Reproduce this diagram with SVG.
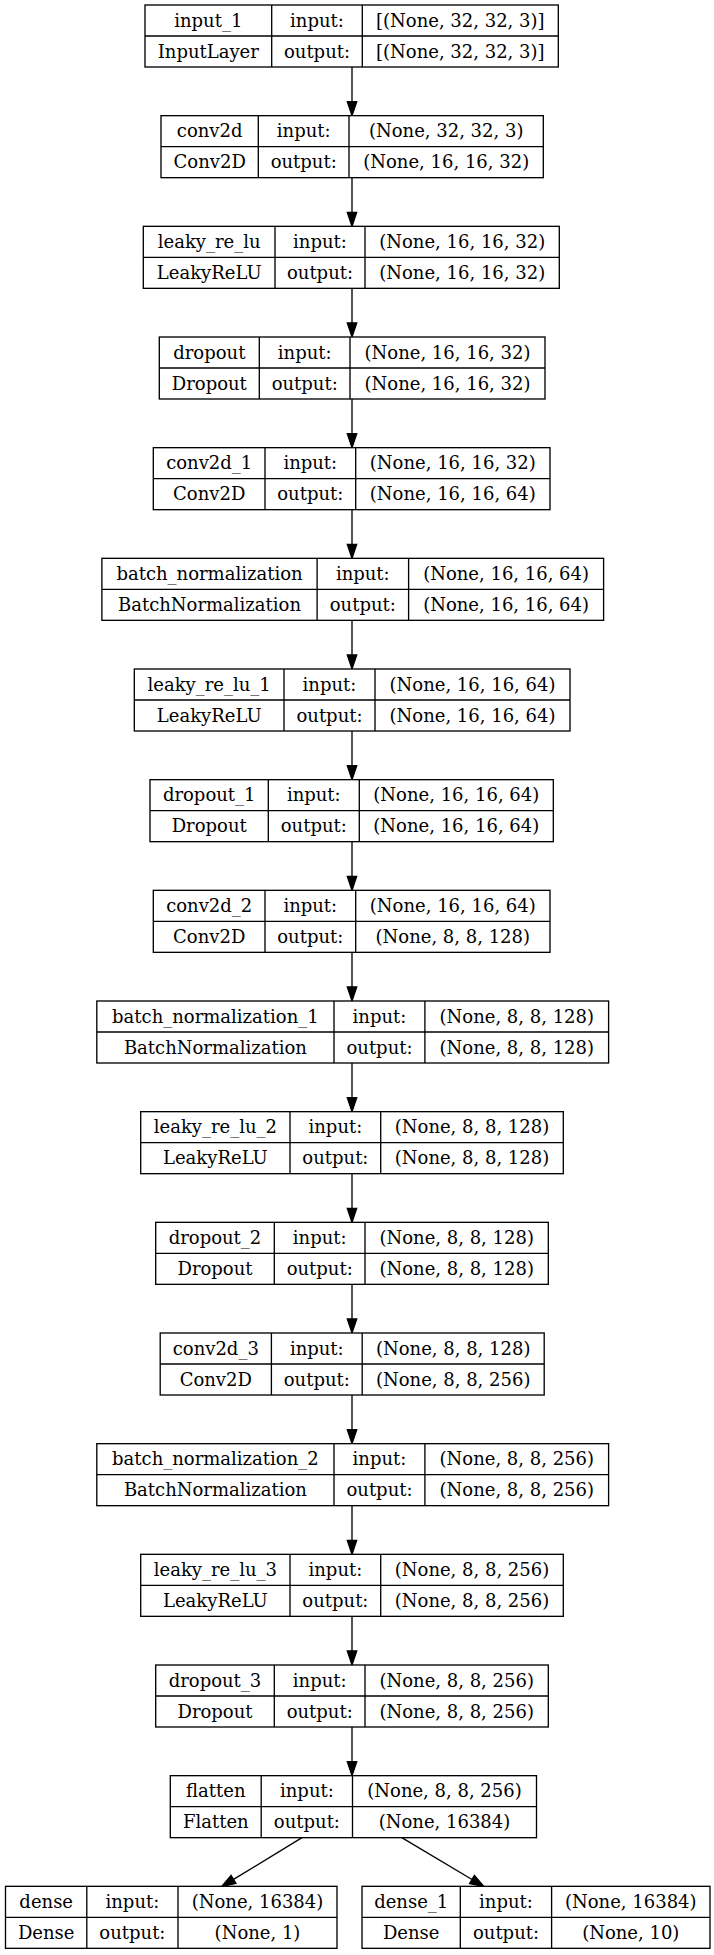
<svg xmlns="http://www.w3.org/2000/svg" width="714" height="1955" viewBox="0 0 714 1955">
  <style>
    .box { fill: #ffffff; stroke: #000000; stroke-width: 1.33; }
    .sep { stroke: #000000; stroke-width: 1.33; }
    .edge { stroke: #000000; stroke-width: 1.33; fill: none; marker-end: url(#head); }
    text { font-family: "DejaVu Serif", "Liberation Serif", serif; font-size: 18px; fill: #000000; text-anchor: middle; }
  </style>
  <defs>
    <marker id="head" markerUnits="userSpaceOnUse" markerWidth="14" markerHeight="10" refX="0" refY="5" orient="auto" overflow="visible">
      <path d="M0,0.3 L14,5 L0,9.7 Z" fill="#000000" stroke="#000000" stroke-width="1.33"/>
    </marker>
  </defs>
  <rect x="0" y="0" width="714" height="1955" fill="#ffffff"/>

  <!-- connectors -->
  <g id="connectors">
    <path class="edge" d="M352,67 V101.67"/>
    <path class="edge" d="M352,177.67 V212.33"/>
    <path class="edge" d="M352,288.33 V323"/>
    <path class="edge" d="M352,399 V433.67"/>
    <path class="edge" d="M352,509.67 V544.33"/>
    <path class="edge" d="M352,620.33 V655"/>
    <path class="edge" d="M352,731 V765.67"/>
    <path class="edge" d="M352,841.67 V876.33"/>
    <path class="edge" d="M352,952.33 V987"/>
    <path class="edge" d="M352,1063 V1097.67"/>
    <path class="edge" d="M352,1173.67 V1208.33"/>
    <path class="edge" d="M352,1284.33 V1319"/>
    <path class="edge" d="M352,1395 V1429.67"/>
    <path class="edge" d="M352,1505.67 V1540.33"/>
    <path class="edge" d="M352,1616.33 V1651"/>
    <path class="edge" d="M352,1727 V1761.67"/>
    <path class="edge" d="M302,1837.67 L233.5,1879.4"/>
    <path class="edge" d="M401.8,1837.67 L472,1879.5"/>
  </g>

  <!-- layer nodes -->
  <g id="input_1" transform="translate(0,5)">
    <rect class="box" x="145" y="0" width="413.3" height="62"/>
    <line class="sep" x1="145" y1="31" x2="558.3" y2="31"/>
    <line class="sep" x1="271.7" y1="0" x2="271.7" y2="62"/>
    <line class="sep" x1="362.3" y1="0" x2="362.3" y2="62"/>
    <text x="208.3" y="21.5">input_1</text>
    <text x="208.3" y="52.5">InputLayer</text>
    <text x="317" y="21.5">input:</text>
    <text x="317" y="52.5">output:</text>
    <text x="460.3" y="21.5">[(None, 32, 32, 3)]</text>
    <text x="460.3" y="52.5">[(None, 32, 32, 3)]</text>
  </g>

  <g id="conv2d" transform="translate(0,115.67)">
    <rect class="box" x="161" y="0" width="382.3" height="62"/>
    <line class="sep" x1="161" y1="31" x2="543.3" y2="31"/>
    <line class="sep" x1="258.3" y1="0" x2="258.3" y2="62"/>
    <line class="sep" x1="349" y1="0" x2="349" y2="62"/>
    <text x="209.7" y="21.5">conv2d</text>
    <text x="209.7" y="52.5">Conv2D</text>
    <text x="303.7" y="21.5">input:</text>
    <text x="303.7" y="52.5">output:</text>
    <text x="446.2" y="21.5">(None, 32, 32, 3)</text>
    <text x="446.2" y="52.5">(None, 16, 16, 32)</text>
  </g>

  <g id="leaky_re_lu" transform="translate(0,226.33)">
    <rect class="box" x="143.3" y="0" width="416" height="62"/>
    <line class="sep" x1="143.3" y1="31" x2="559.3" y2="31"/>
    <line class="sep" x1="275" y1="0" x2="275" y2="62"/>
    <line class="sep" x1="365" y1="0" x2="365" y2="62"/>
    <text x="209.2" y="21.5">leaky_re_lu</text>
    <text x="209.2" y="52.5">LeakyReLU</text>
    <text x="320" y="21.5">input:</text>
    <text x="320" y="52.5">output:</text>
    <text x="462.2" y="21.5">(None, 16, 16, 32)</text>
    <text x="462.2" y="52.5">(None, 16, 16, 32)</text>
  </g>

  <g id="dropout" transform="translate(0,337)">
    <rect class="box" x="159.3" y="0" width="385.7" height="62"/>
    <line class="sep" x1="159.3" y1="31" x2="545" y2="31"/>
    <line class="sep" x1="259.3" y1="0" x2="259.3" y2="62"/>
    <line class="sep" x1="350" y1="0" x2="350" y2="62"/>
    <text x="209.3" y="21.5">dropout</text>
    <text x="209.3" y="52.5">Dropout</text>
    <text x="304.7" y="21.5">input:</text>
    <text x="304.7" y="52.5">output:</text>
    <text x="447.5" y="21.5">(None, 16, 16, 32)</text>
    <text x="447.5" y="52.5">(None, 16, 16, 32)</text>
  </g>

  <g id="conv2d_1" transform="translate(0,447.67)">
    <rect class="box" x="153.3" y="0" width="396.7" height="62"/>
    <line class="sep" x1="153.3" y1="31" x2="550" y2="31"/>
    <line class="sep" x1="265" y1="0" x2="265" y2="62"/>
    <line class="sep" x1="355.7" y1="0" x2="355.7" y2="62"/>
    <text x="209.2" y="21.5">conv2d_1</text>
    <text x="209.2" y="52.5">Conv2D</text>
    <text x="310.3" y="21.5">input:</text>
    <text x="310.3" y="52.5">output:</text>
    <text x="452.8" y="21.5">(None, 16, 16, 32)</text>
    <text x="452.8" y="52.5">(None, 16, 16, 64)</text>
  </g>

  <g id="batch_normalization" transform="translate(0,558.33)">
    <rect class="box" x="101.9" y="0" width="501.7" height="62"/>
    <line class="sep" x1="101.9" y1="31" x2="603.6" y2="31"/>
    <line class="sep" x1="317.1" y1="0" x2="317.1" y2="62"/>
    <line class="sep" x1="408.6" y1="0" x2="408.6" y2="62"/>
    <text x="209.5" y="21.5">batch_normalization</text>
    <text x="209.5" y="52.5">BatchNormalization</text>
    <text x="362.8" y="21.5">input:</text>
    <text x="362.8" y="52.5">output:</text>
    <text x="506.1" y="21.5">(None, 16, 16, 64)</text>
    <text x="506.1" y="52.5">(None, 16, 16, 64)</text>
  </g>

  <g id="leaky_re_lu_1" transform="translate(0,669)">
    <rect class="box" x="134.3" y="0" width="435.7" height="62"/>
    <line class="sep" x1="134.3" y1="31" x2="570" y2="31"/>
    <line class="sep" x1="284" y1="0" x2="284" y2="62"/>
    <line class="sep" x1="375" y1="0" x2="375" y2="62"/>
    <text x="209.2" y="21.5">leaky_re_lu_1</text>
    <text x="209.2" y="52.5">LeakyReLU</text>
    <text x="329.5" y="21.5">input:</text>
    <text x="329.5" y="52.5">output:</text>
    <text x="472.5" y="21.5">(None, 16, 16, 64)</text>
    <text x="472.5" y="52.5">(None, 16, 16, 64)</text>
  </g>

  <g id="dropout_1" transform="translate(0,779.67)">
    <rect class="box" x="150" y="0" width="403.3" height="62"/>
    <line class="sep" x1="150" y1="31" x2="553.3" y2="31"/>
    <line class="sep" x1="268.3" y1="0" x2="268.3" y2="62"/>
    <line class="sep" x1="359.3" y1="0" x2="359.3" y2="62"/>
    <text x="209.2" y="21.5">dropout_1</text>
    <text x="209.2" y="52.5">Dropout</text>
    <text x="313.8" y="21.5">input:</text>
    <text x="313.8" y="52.5">output:</text>
    <text x="456.3" y="21.5">(None, 16, 16, 64)</text>
    <text x="456.3" y="52.5">(None, 16, 16, 64)</text>
  </g>

  <g id="conv2d_2" transform="translate(0,890.33)">
    <rect class="box" x="153.3" y="0" width="396.7" height="62"/>
    <line class="sep" x1="153.3" y1="31" x2="550" y2="31"/>
    <line class="sep" x1="265" y1="0" x2="265" y2="62"/>
    <line class="sep" x1="355.7" y1="0" x2="355.7" y2="62"/>
    <text x="209.2" y="21.5">conv2d_2</text>
    <text x="209.2" y="52.5">Conv2D</text>
    <text x="310.3" y="21.5">input:</text>
    <text x="310.3" y="52.5">output:</text>
    <text x="452.8" y="21.5">(None, 16, 16, 64)</text>
    <text x="452.8" y="52.5">(None, 8, 8, 128)</text>
  </g>

  <g id="batch_normalization_1" transform="translate(0,1001)">
    <rect class="box" x="96.8" y="0" width="511.8" height="62"/>
    <line class="sep" x1="96.8" y1="31" x2="608.6" y2="31"/>
    <line class="sep" x1="334" y1="0" x2="334" y2="62"/>
    <line class="sep" x1="424.9" y1="0" x2="424.9" y2="62"/>
    <text x="215.4" y="21.5">batch_normalization_1</text>
    <text x="215.4" y="52.5">BatchNormalization</text>
    <text x="379.5" y="21.5">input:</text>
    <text x="379.5" y="52.5">output:</text>
    <text x="516.8" y="21.5">(None, 8, 8, 128)</text>
    <text x="516.8" y="52.5">(None, 8, 8, 128)</text>
  </g>

  <g id="leaky_re_lu_2" transform="translate(0,1111.67)">
    <rect class="box" x="140.7" y="0" width="422.6" height="62"/>
    <line class="sep" x1="140.7" y1="31" x2="563.3" y2="31"/>
    <line class="sep" x1="290" y1="0" x2="290" y2="62"/>
    <line class="sep" x1="380.7" y1="0" x2="380.7" y2="62"/>
    <text x="215.4" y="21.5">leaky_re_lu_2</text>
    <text x="215.4" y="52.5">LeakyReLU</text>
    <text x="335.4" y="21.5">input:</text>
    <text x="335.4" y="52.5">output:</text>
    <text x="472" y="21.5">(None, 8, 8, 128)</text>
    <text x="472" y="52.5">(None, 8, 8, 128)</text>
  </g>

  <g id="dropout_2" transform="translate(0,1222.33)">
    <rect class="box" x="155.7" y="0" width="392.6" height="62"/>
    <line class="sep" x1="155.7" y1="31" x2="548.3" y2="31"/>
    <line class="sep" x1="274.3" y1="0" x2="274.3" y2="62"/>
    <line class="sep" x1="365" y1="0" x2="365" y2="62"/>
    <text x="215" y="21.5">dropout_2</text>
    <text x="215" y="52.5">Dropout</text>
    <text x="319.7" y="21.5">input:</text>
    <text x="319.7" y="52.5">output:</text>
    <text x="456.7" y="21.5">(None, 8, 8, 128)</text>
    <text x="456.7" y="52.5">(None, 8, 8, 128)</text>
  </g>

  <g id="conv2d_3" transform="translate(0,1333)">
    <rect class="box" x="160.2" y="0" width="384" height="62"/>
    <line class="sep" x1="160.2" y1="31" x2="544.2" y2="31"/>
    <line class="sep" x1="271.4" y1="0" x2="271.4" y2="62"/>
    <line class="sep" x1="362.2" y1="0" x2="362.2" y2="62"/>
    <text x="215.8" y="21.5">conv2d_3</text>
    <text x="215.8" y="52.5">Conv2D</text>
    <text x="316.8" y="21.5">input:</text>
    <text x="316.8" y="52.5">output:</text>
    <text x="453.2" y="21.5">(None, 8, 8, 128)</text>
    <text x="453.2" y="52.5">(None, 8, 8, 256)</text>
  </g>

  <g id="batch_normalization_2" transform="translate(0,1443.67)">
    <rect class="box" x="96.8" y="0" width="511.8" height="62"/>
    <line class="sep" x1="96.8" y1="31" x2="608.6" y2="31"/>
    <line class="sep" x1="334" y1="0" x2="334" y2="62"/>
    <line class="sep" x1="424.9" y1="0" x2="424.9" y2="62"/>
    <text x="215.4" y="21.5">batch_normalization_2</text>
    <text x="215.4" y="52.5">BatchNormalization</text>
    <text x="379.5" y="21.5">input:</text>
    <text x="379.5" y="52.5">output:</text>
    <text x="516.8" y="21.5">(None, 8, 8, 256)</text>
    <text x="516.8" y="52.5">(None, 8, 8, 256)</text>
  </g>

  <g id="leaky_re_lu_3" transform="translate(0,1554.33)">
    <rect class="box" x="140.7" y="0" width="422.6" height="62"/>
    <line class="sep" x1="140.7" y1="31" x2="563.3" y2="31"/>
    <line class="sep" x1="290" y1="0" x2="290" y2="62"/>
    <line class="sep" x1="380.7" y1="0" x2="380.7" y2="62"/>
    <text x="215.4" y="21.5">leaky_re_lu_3</text>
    <text x="215.4" y="52.5">LeakyReLU</text>
    <text x="335.4" y="21.5">input:</text>
    <text x="335.4" y="52.5">output:</text>
    <text x="472" y="21.5">(None, 8, 8, 256)</text>
    <text x="472" y="52.5">(None, 8, 8, 256)</text>
  </g>

  <g id="dropout_3" transform="translate(0,1665)">
    <rect class="box" x="155.7" y="0" width="392.6" height="62"/>
    <line class="sep" x1="155.7" y1="31" x2="548.3" y2="31"/>
    <line class="sep" x1="274.3" y1="0" x2="274.3" y2="62"/>
    <line class="sep" x1="365" y1="0" x2="365" y2="62"/>
    <text x="215" y="21.5">dropout_3</text>
    <text x="215" y="52.5">Dropout</text>
    <text x="319.7" y="21.5">input:</text>
    <text x="319.7" y="52.5">output:</text>
    <text x="456.7" y="21.5">(None, 8, 8, 256)</text>
    <text x="456.7" y="52.5">(None, 8, 8, 256)</text>
  </g>

  <g id="flatten" transform="translate(0,1775.67)">
    <rect class="box" x="170.3" y="0" width="366.2" height="62"/>
    <line class="sep" x1="170.3" y1="31" x2="536.5" y2="31"/>
    <line class="sep" x1="261.2" y1="0" x2="261.2" y2="62"/>
    <line class="sep" x1="352.5" y1="0" x2="352.5" y2="62"/>
    <text x="215.8" y="21.5">flatten</text>
    <text x="215.8" y="52.5">Flatten</text>
    <text x="306.9" y="21.5">input:</text>
    <text x="306.9" y="52.5">output:</text>
    <text x="444.5" y="21.5">(None, 8, 8, 256)</text>
    <text x="444.5" y="52.5">(None, 16384)</text>
  </g>

  <g id="dense" transform="translate(0,1886.33)">
    <rect class="box" x="5.5" y="0" width="331.5" height="62"/>
    <line class="sep" x1="5.5" y1="31" x2="337" y2="31"/>
    <line class="sep" x1="86.8" y1="0" x2="86.8" y2="62"/>
    <line class="sep" x1="178" y1="0" x2="178" y2="62"/>
    <text x="46.2" y="21.5">dense</text>
    <text x="46.2" y="52.5">Dense</text>
    <text x="132.4" y="21.5">input:</text>
    <text x="132.4" y="52.5">output:</text>
    <text x="257.5" y="21.5">(None, 16384)</text>
    <text x="257.5" y="52.5">(None, 1)</text>
  </g>

  <g id="dense_1" transform="translate(0,1886.33)">
    <rect class="box" x="362" y="0" width="348" height="62"/>
    <line class="sep" x1="362" y1="31" x2="710" y2="31"/>
    <line class="sep" x1="460.3" y1="0" x2="460.3" y2="62"/>
    <line class="sep" x1="551.6" y1="0" x2="551.6" y2="62"/>
    <text x="411.2" y="21.5">dense_1</text>
    <text x="411.2" y="52.5">Dense</text>
    <text x="506" y="21.5">input:</text>
    <text x="506" y="52.5">output:</text>
    <text x="630.8" y="21.5">(None, 16384)</text>
    <text x="630.8" y="52.5">(None, 10)</text>
  </g>
</svg>
